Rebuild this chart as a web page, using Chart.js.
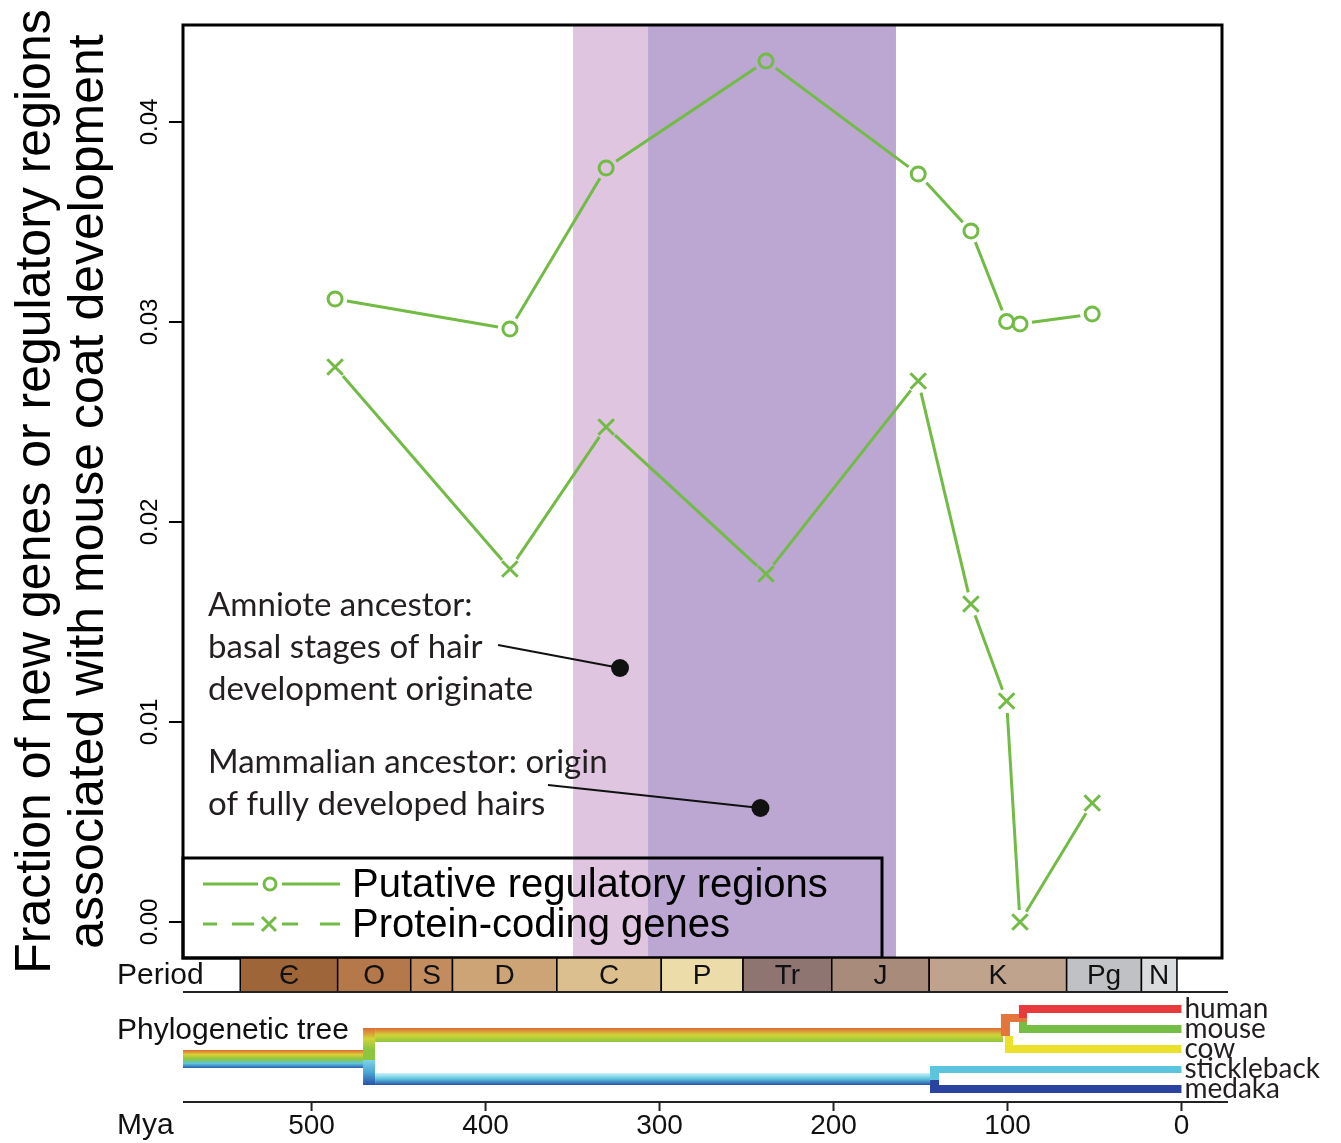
<!DOCTYPE html>
<html>
<head>
<meta charset="utf-8">
<title>Coat development</title>
<script src="https://cdn.jsdelivr.net/npm/chart.js@4.4.1/dist/chart.umd.min.js"></script>
<style>
  html, body { margin: 0; padding: 0; background: #fff; }
  #wrap { width: 1341px; height: 1143px; position: relative; }
</style>
</head>
<body>
<div id="wrap"><canvas id="chart" width="1341" height="1143"></canvas></div>
<script>
// --- Data ---
const myaPoints = [486.5, 386, 330.7, 238.8, 151.3, 121, 100.5, 92.8, 51.3];
const regulatoryValues = [0.03115, 0.02965, 0.0377, 0.04305, 0.0374, 0.03455, 0.03002, 0.0299, 0.0304];
const proteinValues = [0.02775, 0.01765, 0.02475, 0.0174, 0.02705, 0.0159, 0.01105, 0.0, 0.00595];

const yTickValues = [0, 0.01, 0.02, 0.03, 0.04];
const myaTickValues = [500, 400, 300, 200, 100, 0];

// geological periods (Mya)
const periodNames = ["Є", "O", "S", "D", "C", "P", "Tr", "J", "K", "Pg", "N"];
const periodStarts = [541, 485, 443, 419, 359, 299, 252, 201, 145, 66, 23];
const periodEnds = [485, 443, 419, 359, 299, 252, 201, 145, 66, 23, 2.6];
const periodColors = ["#9e6638", "#b4784a", "#c28c5e", "#cda475", "#dcbf8f", "#ebdcaa",
                      "#8e7571", "#a98b7c", "#bfa38d", "#bfc1c4", "#dadbdd"];

// shaded windows (Mya)
const bandStarts = [349.7, 306.6];
const bandEnds = [306.6, 164.1];
const bandColors = ["#dfc5e0", "#bca7d3"];

// phylogeny
const treeLeaves = ["human", "mouse", "cow", "stickleback", "medaka"];
const leafColors = ["#e8393d", "#76bd45", "#ebe12a", "#5cc4dc", "#2a42a0"];
const splitVertebrates = 470.4;
const splitFish = 144.5;
const splitPlacental = 102.6;
const splitHumanMouse = 93.4;

// annotations
const annotationTexts = [
  ["Amniote ancestor:", "basal stages of hair", "development originate"],
  ["Mammalian ancestor: origin", "of fully developed hairs"]
];
const annotationDotMya = [322.7, 242];
const annotationDotValues = [0.0127, 0.0057];

const legendLabels = ["Putative regulatory regions", "Protein-coding genes"];

const GREEN = "#72bb44";
const SANS = "'Liberation Sans', Arial, sans-serif";
const MYRIAD = "Lato, 'Open Sans', sans-serif";

function rect(ctx, x0, x1, y0, y1, fill) {
  ctx.fillStyle = fill;
  ctx.fillRect(Math.min(x0, x1), y0, Math.abs(x1 - x0), y1 - y0);
}

function vGrad(ctx, y0, y1, stops) {
  const g = ctx.createLinearGradient(0, y0, 0, y1);
  stops.forEach((c, i) => g.addColorStop(i / (stops.length - 1), c));
  return g;
}

const figurePlugin = {
  id: "figure",
  beforeDatasetsDraw(chart) {
    const { ctx, chartArea: ca, scales: { x } } = chart;
    ctx.save();
    bandStarts.forEach((s, i) => {
      const x0 = x.getPixelForValue(s);
      const x1 = x.getPixelForValue(bandEnds[i]);
      rect(ctx, x0, x1, ca.top, ca.bottom, bandColors[i]);
    });
    ctx.restore();
  },
  afterDatasetsDraw(chart) {
    const { ctx, chartArea: ca, scales: { x, y } } = chart;
    ctx.save();

    // connecting lines with gaps around the markers (R type="b")
    chart.data.datasets.forEach((ds, di) => {
      const pts = chart.getDatasetMeta(di).data;
      ctx.strokeStyle = GREEN;
      ctx.lineWidth = 3;
      for (let i = 0; i < pts.length - 1; i++) {
        const p0 = pts[i], p1 = pts[i + 1];
        const dx = p1.x - p0.x, dy = p1.y - p0.y;
        const len = Math.hypot(dx, dy);
        const gap = 12;
        if (len <= gap * 2) continue;
        const ux = dx / len, uy = dy / len;
        ctx.beginPath();
        ctx.moveTo(p0.x + ux * gap, p0.y + uy * gap);
        ctx.lineTo(p1.x - ux * gap, p1.y - uy * gap);
        ctx.stroke();
      }
    });

    // annotations
    ctx.fillStyle = "#231f20";
    ctx.font = "33px " + MYRIAD;
    ctx.textAlign = "left";
    ctx.textBaseline = "middle";
    const textX = x.getPixelForValue(559.5);
    const textTop = [y.getPixelForValue(0.01585), y.getPixelForValue(0.008)];
    const lineFrom = [[392.8, 0.01385], [364.1, 0.00685]];
    annotationTexts.forEach((lines, i) => {
      lines.forEach((t, j) => ctx.fillText(t, textX, textTop[i] + j * 42));
      const dx = x.getPixelForValue(annotationDotMya[i]);
      const dy = y.getPixelForValue(annotationDotValues[i]);
      ctx.strokeStyle = "#111";
      ctx.lineWidth = 2;
      ctx.beginPath();
      ctx.moveTo(x.getPixelForValue(lineFrom[i][0]), y.getPixelForValue(lineFrom[i][1]));
      ctx.lineTo(dx, dy);
      ctx.stroke();
      ctx.fillStyle = "#111";
      ctx.beginPath();
      ctx.arc(dx, dy, 9, 0, Math.PI * 2);
      ctx.fill();
      ctx.fillStyle = "#231f20";
    });

    // legend box
    const lgTop = 858;
    const lgRight = 882;
    ctx.strokeStyle = "#000";
    ctx.lineWidth = 3;
    ctx.strokeRect(ca.left, lgTop, lgRight - ca.left, ca.bottom - lgTop);
    const rows = [884, 924];
    ctx.strokeStyle = GREEN;
    ctx.lineWidth = 3;
    // row 1: solid line + circle
    ctx.beginPath();
    ctx.moveTo(203, rows[0]); ctx.lineTo(258, rows[0]);
    ctx.moveTo(282, rows[0]); ctx.lineTo(340, rows[0]);
    ctx.stroke();
    ctx.beginPath();
    ctx.arc(270, rows[0], 6, 0, Math.PI * 2);
    ctx.stroke();
    // row 2: dashed line + cross
    ctx.beginPath();
    ctx.moveTo(203, rows[1]); ctx.lineTo(217, rows[1]);
    ctx.moveTo(232, rows[1]); ctx.lineTo(254, rows[1]);
    ctx.moveTo(282, rows[1]); ctx.lineTo(298, rows[1]);
    ctx.moveTo(320, rows[1]); ctx.lineTo(340, rows[1]);
    ctx.moveTo(262, rows[1] - 7); ctx.lineTo(276, rows[1] + 7);
    ctx.moveTo(276, rows[1] - 7); ctx.lineTo(262, rows[1] + 7);
    ctx.stroke();
    ctx.fillStyle = "#000";
    ctx.font = "40px " + SANS;
    ctx.textBaseline = "middle";
    legendLabels.forEach((t, i) => ctx.fillText(t, 352, rows[i] + 2));

    // plot frame
    ctx.strokeStyle = "#000";
    ctx.lineWidth = 3;
    ctx.strokeRect(ca.left, ca.top, ca.right - ca.left, ca.bottom - ca.top);

    // y tick labels, rotated
    ctx.font = "24px " + SANS;
    ctx.textAlign = "center";
    ctx.textBaseline = "alphabetic";
    ctx.fillStyle = "#000";
    yTickValues.forEach(v => {
      ctx.save();
      ctx.translate(157, y.getPixelForValue(v));
      ctx.rotate(-Math.PI / 2);
      ctx.fillText(v.toFixed(2), 0, 0);
      ctx.restore();
    });

    // y title, two rotated lines
    const midY = (ca.top + ca.bottom) / 2;
    ctx.font = "50px " + SANS;
    [["Fraction of new genes or regulatory regions", 50],
     ["associated with mouse coat development", 103]].forEach(([t, bx]) => {
      ctx.save();
      ctx.translate(bx, midY);
      ctx.rotate(-Math.PI / 2);
      ctx.fillText(t, 0, 0);
      ctx.restore();
    });

    // period bar
    const pTop = ca.bottom, pBot = 992;
    ctx.font = "28px " + SANS;
    ctx.textBaseline = "middle";
    periodNames.forEach((name, i) => {
      const x0 = x.getPixelForValue(periodStarts[i]);
      const x1 = x.getPixelForValue(periodEnds[i]);
      rect(ctx, x0, x1, pTop, pBot, periodColors[i]);
      ctx.strokeStyle = "#000";
      ctx.lineWidth = 1.5;
      ctx.strokeRect(x0, pTop, x1 - x0, pBot - pTop);
      ctx.fillStyle = "#111";
      ctx.fillText(name, (x0 + x1) / 2, (pTop + pBot) / 2 + 1);
    });
    ctx.strokeStyle = "#222";
    ctx.lineWidth = 2;
    ctx.beginPath();
    ctx.moveTo(ca.left, pBot); ctx.lineTo(1228, pBot);
    ctx.stroke();

    // row labels
    ctx.font = "30px " + SANS;
    ctx.textAlign = "left";
    ctx.fillStyle = "#111";
    ctx.fillText("Period", 117, 976);
    ctx.fillText("Phylogenetic tree", 117, 1031);
    ctx.fillText("Mya", 117, 1126);

    // phylogenetic tree
    const x0 = x.getPixelForValue(0);
    const xV = x.getPixelForValue(splitVertebrates);
    const xF = x.getPixelForValue(splitFish);
    const xP = x.getPixelForValue(splitPlacental);
    const xH = x.getPixelForValue(splitHumanMouse);
    rect(ctx, ca.left, xV + 12, 1050, 1068,
      vGrad(ctx, 1050, 1068, ["#e0683a", "#d9cf34", "#8cc63f", "#5cc4dc", "#2f5db0"]));
    rect(ctx, xV, xV + 12, 1028, 1060, vGrad(ctx, 1028, 1060, ["#e0683a", "#d0d436", "#8cc63f", "#8cc63f"]));
    rect(ctx, xV, xV + 12, 1060, 1085, vGrad(ctx, 1060, 1085, ["#7fd3e6", "#4aa6d4", "#2a50a8"]));
    rect(ctx, xV + 12, xP, 1028, 1042, vGrad(ctx, 1028, 1042, ["#e0683a", "#d0d436", "#8cc63f"]));
    rect(ctx, xV + 12, xF, 1073, 1085, vGrad(ctx, 1073, 1085, ["#cdf2fa", "#5cc4dc", "#2a50a8"]));
    // fish split
    rect(ctx, xF, xF + 9, 1066, 1080, leafColors[3]);
    rect(ctx, xF, x0, 1066, 1073, leafColors[3]);
    rect(ctx, xF, xF + 9, 1080, 1093, leafColors[4]);
    rect(ctx, xF, x0, 1085, 1093, leafColors[4]);
    // placental split
    rect(ctx, xP - 2, xP + 7, 1014, 1036, "#e2763c");
    rect(ctx, xP - 2, xH + 8, 1014, 1022, "#e2763c");
    rect(ctx, xP + 2, xP + 10, 1036, 1053, leafColors[2]);
    rect(ctx, xP + 2, x0, 1045, 1053, leafColors[2]);
    rect(ctx, xH, xH + 8, 1005, 1018, leafColors[0]);
    rect(ctx, xH, x0, 1005, 1013, leafColors[0]);
    rect(ctx, xH, xH + 8, 1022, 1033, leafColors[1]);
    rect(ctx, xH, x0, 1025, 1033, leafColors[1]);
    ctx.font = "28px " + MYRIAD;
    ctx.fillStyle = "#231f20";
    const leafRows = [1009, 1029, 1049, 1069, 1089];
    treeLeaves.forEach((t, i) => ctx.fillText(t, x0 + 3, leafRows[i]));

    // Mya axis
    const axY = 1102;
    ctx.strokeStyle = "#222";
    ctx.lineWidth = 2;
    ctx.beginPath();
    ctx.moveTo(ca.left, axY); ctx.lineTo(1228, axY);
    myaTickValues.forEach(v => {
      const px = x.getPixelForValue(v);
      ctx.moveTo(px, axY); ctx.lineTo(px, axY + 9);
    });
    ctx.stroke();
    ctx.font = "28px " + SANS;
    ctx.textAlign = "center";
    ctx.fillStyle = "#111";
    myaTickValues.forEach(v => ctx.fillText(String(v), x.getPixelForValue(v), 1126));

    ctx.restore();
  }
};

const toPoints = vals => myaPoints.map((m, i) => ({ x: m, y: vals[i] }));

new Chart(document.getElementById("chart"), {
  type: "scatter",
  data: {
    datasets: [
      {
        label: legendLabels[0],
        data: toPoints(regulatoryValues),
        pointStyle: "circle",
        pointRadius: 7,
        pointBorderWidth: 3,
        borderColor: GREEN,
        backgroundColor: "rgba(0,0,0,0)",
        showLine: false
      },
      {
        label: legendLabels[1],
        data: toPoints(proteinValues),
        pointStyle: "crossRot",
        pointRadius: 11,
        pointBorderWidth: 3,
        borderColor: GREEN,
        backgroundColor: GREEN,
        showLine: false
      }
    ]
  },
  options: {
    responsive: false,
    animation: false,
    devicePixelRatio: 1,
    layout: { padding: { left: 0, top: 25, right: 119, bottom: 185 } },
    plugins: { legend: { display: false }, tooltip: { enabled: false }, title: { display: false } },
    scales: {
      x: { type: "linear", display: false, min: -23.3, max: 573.9, reverse: true },
      y: {
        type: "linear",
        position: "left",
        min: -0.0018,
        max: 0.04485,
        border: { display: false },
        grid: { drawOnChartArea: false, drawTicks: true, tickLength: 14, color: "#000", lineWidth: 2 },
        ticks: { display: false },
        afterBuildTicks: s => { s.ticks = yTickValues.map(v => ({ value: v })); },
        afterFit: s => { s.width = 183; }
      }
    }
  },
  plugins: [figurePlugin]
});
</script>
</body>
</html>
